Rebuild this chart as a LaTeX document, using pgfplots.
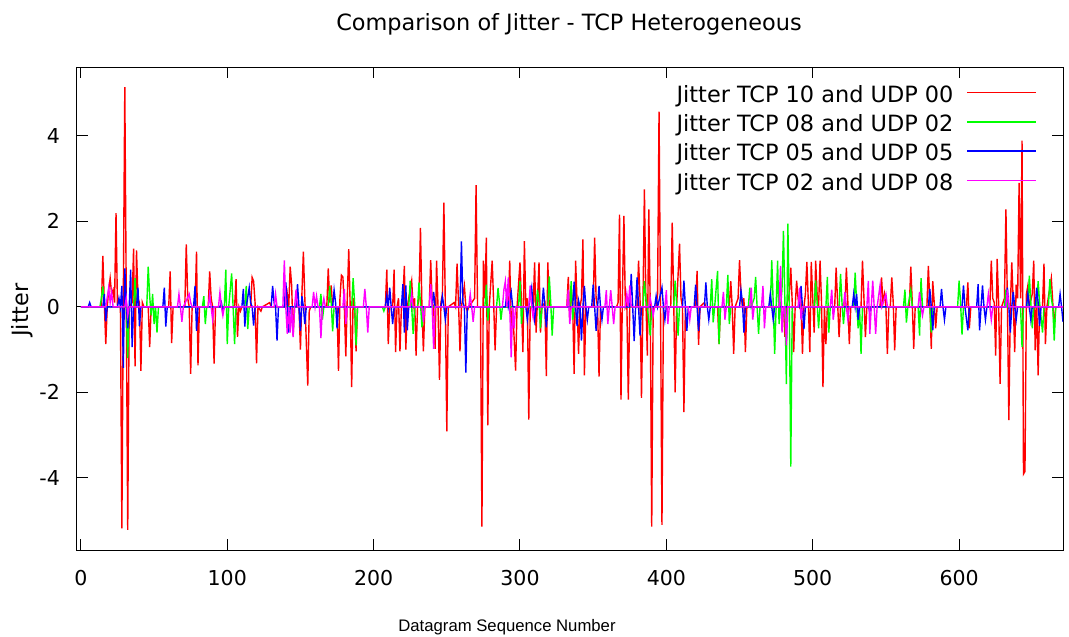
\documentclass[border=0pt]{standalone}
\usepackage{fontspec}
\setmainfont{DejaVu Sans}
\newfontfamily\libsans{Liberation Sans}
\usepackage{pgfplots}
\pgfplotsset{compat=1.18}
\definecolor{gred}{HTML}{FF0000}
\definecolor{ggreen}{HTML}{00FF00}
\definecolor{gblue}{HTML}{0000FF}
\definecolor{gmag}{HTML}{FF00FF}
\newcommand{\bigfnt}{\fontsize{22.4bp}{26bp}\selectfont}
\newcommand{\tckfnt}{\fontsize{20.5bp}{24bp}\selectfont}
\begin{document}
\begin{tikzpicture}
\useasboundingbox (0,0) rectangle (1069bp,637bp);
\begin{axis}[
  at={(76.5bp,86.5bp)}, anchor=south west,
  scale only axis, width=986.5bp, height=483bp,
  xmin=-3, xmax=671, ymin=-5.7, ymax=5.6,
  xtick={0,100,200,300,400,500,600},
  ytick={-4,-2,0,2,4}, yticklabels={-4,-2,0,2,4},
  xticklabels={0,100,200,300,400,500,600},
  tick align=inside, major tick length=11bp,
  axis line style={black,line width=1bp},
  every tick/.style={black,line width=1bp},
  xticklabel style={font=\tckfnt,anchor=north,inner sep=0pt,yshift=-20bp},
  yticklabel style={font=\tckfnt,anchor=east,inner sep=0pt,xshift=-16.5bp},
  legend plot pos=right, legend cell align=right,
  legend image code/.code={\draw[#1] (0bp,4bp) -- (69bp,4bp);},
  legend style={at={(rel axis cs:1,1)}, anchor=north east, xshift=-26bp, yshift=-18.8bp,
    draw=none, fill=none, inner sep=0pt, column sep=13bp, row sep=8.7bp,
    font=\bigfnt, nodes={inner sep=0pt, text height=16bp, text depth=4.5bp}},
  every axis plot/.append style={line width=1.4bp},
]
\addplot[gred] coordinates {
(0,0) (14,0) (15,1.19) (16,0.1) (17,-0.87) (18,0) (19,0.4) (20,0.67) (21,0.3) (22,0.4) (23,0.1) (24,2.19) (25,0) (27,0) (28,-5.18) (29,0.3) (30,5.14) (31,0.2) (32,-5.22) (33,0) (35,0.1) (36,1.36) (37,-1.39) (38,1.32) (39,0.2) (40,0.1) (41,-1.5) (42,0.1) (43,0) (46,0) (47,-0.94) (48,0) (60,0) (61,0.83) (62,-0.85) (63,0) (71,0) (72,1.46) (73,0.2) (74,0) (75,-1.57) (76,0) (78,0) (79,1.29) (80,-1.37) (81,0) (87,0) (88,0.83) (89,0.2) (90,0) (91,-1.33) (92,0) (105,0) (106,0.65) (107,-0.7) (108,0)
(109,-0.1) (110,0) (116,0) (117,0.69) (118,0.6) (119,0.1) (120,-1.32) (121,0) (123,-0.1) (124,0) (129,0.1) (130,0) (140,0) (141,0.3) (142,0) (143,0.94) (144,0.5) (145,-0.67) (146,0) (149,0) (150,-1.0) (151,0.3) (152,1.29) (153,0.2) (155,-1.84) (156,-0.1) (157,0) (168,0) (169,0.9) (170,0.1) (171,0.5) (172,0) (175,0) (176,-1.5) (177,0.2) (178,0.74) (179,0.7) (180,0) (181,-1.16) (182,0.2) (183,1.35) (184,0) (185,-1.88) (186,0.2) (187,0) (188,-1.04) (189,0) (208,0) (209,0.87) (210,-0.87) (211,0) (213,0) (214,0.87) (215,-1.06) (216,0) (217,0.2) (218,-1.04) (219,0) (220,0.2) (221,0.96) (222,-1.0) (223,0)
(226,0.61) (227,0) (228,0.2) (229,-1.14) (230,0) (231,0.2) (232,1.85) (233,0) (234,-1.04) (235,0) (238,0) (239,1.09) (240,0.1) (241,0) (242,-0.98) (243,1.08) (244,0) (245,-1.71) (246,0.1) (247,0.3) (248,2.44) (249,0) (250,-2.91) (251,0) (255,0.1) (256,0) (257,1.01) (258,0.1) (259,-1.04) (260,0) (262,0.49) (263,0) (264,-0.1) (265,0) (269,0.2) (270,2.85) (271,0) (273,0) (274,-5.14) (275,1.08) (276,0.2) (277,1.62) (278,-2.77) (279,0) (281,1.08) (282,0.1) (283,-1.02) (284,0) (292,0) (293,1.08) (294,-0.65) (295,0) (297,-1.49) (298,0) (300,1.04) (301,0.1) (302,-1.06) (303,1.54) (304,0) (305,0.2) (306,-2.64) (307,0) (309,0) (310,1.04) (311,-0.6) (312,0.2) (313,1.04) (314,-0.6) (315,0) (317,0.1) (318,-1.62) (319,1.04) (320,0) (332,0) (333,0.7) (334,-0.3)
(335,0.45) (336,0) (337,-1.57) (338,1.08) (339,0.1) (340,-1.1) (341,0) (342,0.2) (343,1.58) (344,-1.6) (345,0) (350,0) (351,1.62) (352,0.2) (353,0) (354,-1.63) (355,0) (366,0) (367,0.1) (368,2.16) (369,-2.17) (370,0.3) (371,2.13) (372,0) (373,0.1) (374,-2.17) (375,0) (380,0) (381,1.08) (382,0.2) (383,-2.13) (384,0) (385,2.75) (386,0.2) (387,-1.14) (388,2.28) (389,0) (390,-5.14) (391,0) (393,0) (394,0.3) (395,4.57) (396,0) (397,-5.1) (398,0) (403,0) (404,1.97) (405,0.2) (406,-2.0) (407,0) (409,1.48) (410,0.2) (411,0) (412,-2.46) (413,0) (420,0) (421,0.84) (422,-0.89) (423,0) (426,0.1) (427,0) (435,0) (436,-0.87) (437,0) (443,0) (444,0.6) (445,0) (446,-1.1) (447,0)
(449,0.2) (450,1.09) (451,0.3) (452,0) (453,0.2) (454,-1.06) (455,0) (480,0) (481,-0.7) (482,0) (484,0.3) (485,0.92) (486,0.1) (487,-1.06) (488,0) (489,0.61) (490,0.2) (491,0) (492,0.1) (493,-1.1) (494,0) (495,0.3) (496,1.05) (497,0.1) (498,-1.06) (499,1.05) (500,0.2) (501,-0.6) (502,1.08) (503,0.3) (504,0) (505,1.08) (506,0.1) (507,-1.88) (508,0) (509,-0.87) (510,0) (515,0) (516,0.92) (517,0.1) (518,-0.71) (519,0) (522,0) (523,0.92) (524,0.1) (525,-0.87) (526,0) (533,0) (534,1.08) (535,0.2) (536,-0.71) (537,0) (546,0) (547,0.69) (548,0.1) (549,0.3) (550,0) (551,-1.1) (552,0) (553,0) (554,0.69) (555,0.1) (556,-1.02) (557,0)
(566,0) (567,0.94) (568,0.1) (569,-0.98) (570,0) (578,0) (579,0.96) (580,0.1) (581,-0.98) (582,0.6) (583,0.1) (584,-0.5) (585,0) (605,0) (606,0.57) (607,-0.5) (608,0) (621,0) (622,1.08) (623,0.2) (624,0.1) (625,-1.14) (626,1.12) (627,0.1) (628,-1.8) (629,0) (631,0.2) (632,2.28) (633,0.1) (634,-2.65) (635,0) (636,1.04) (637,0.1) (638,-1.06) (639,0.52) (640,0.2) (641,2.9) (642,0.2) (643,3.89) (644,-3.91) (645,-3.85) (646,0.3) (647,0.5) (648,0) (650,0.3) (651,1.08) (652,-1.02) (653,0.2) (654,-1.6) (655,0) (657,0) (658,1.01) (659,-0.87) (660,0) (663,0.67) (664,0.1) (665,-0.5) (666,0) (671,0)
};
\addlegendentry{Jitter TCP 10 and UDP 00}
\addplot[ggreen] coordinates {
(0,0) (13,0) (14,0.2) (15,0.48) (16,0) (31,0) (32,-1.2) (33,0) (36,0) (37,0.67) (38,0) (45,0) (46,0.94) (47,0.25) (48,-0.2) (49,0.3) (50,-0.4) (51,0) (52,-0.6) (53,0) (83,0) (84,0.25) (85,-0.4) (86,0) (98,0) (99,0.87) (100,-0.87) (101,0) (103,0.78) (104,0) (105,-0.87) (106,0)
(112,0) (113,0.49) (114,-0.52) (115,0) (163,0) (164,0.3) (165,-0.3) (166,0) (169,0) (170,0.49) (171,0.1) (172,-0.57) (173,0) (185,0) (186,0.67) (187,0.1) (188,-0.9) (189,0) (206,0) (207,-0.1) (208,0)
(224,0) (225,0.61) (226,0) (227,-0.63) (228,0) (230,0) (231,0.57) (232,0.1) (233,-0.48) (234,0) (276,0) (277,0.52) (278,-0.32) (279,0) (284,0) (285,0.44) (286,0.1) (287,-0.3) (288,0) (299,0) (300,0.61) (301,-0.4) (302,0) (311,0) (312,0.4) (313,0.1) (314,-0.5) (315,0) (319,0) (320,0.71) (321,0.1) (322,-0.67) (323,0)
(334,0) (335,0.6) (336,-0.3) (337,0) (384,0) (385,0.6) (386,0.2) (387,0) (389,-0.67) (390,0) (405,0) (406,0.61) (407,0.1) (408,-0.67) (409,0) (430,0) (431,0.65) (432,-0.36) (433,0) (435,0.84) (436,-0.87) (437,0) (441,0) (442,0.75) (443,-0.4) (444,0)
(456,0) (457,0.45) (458,0) (460,0.2) (461,0.7) (462,0) (463,-0.63) (464,0) (471,0) (472,1.09) (473,0.1) (474,-1.1) (475,0) (476,1.08) (477,-0.4) (478,0) (479,0.4) (480,1.78) (481,0.1) (482,-1.81) (483,1.95) (484,0) (485,-3.74) (486,0) (501,0) (502,0.62) (503,0.1) (504,-0.5) (505,0) (509,0) (510,0.7) (511,-0.6) (512,0) (518,0) (519,0.77) (520,0.1) (521,-0.4) (522,0) (528,0) (529,0.8) (530,0.1) (531,-0.5) (532,0) (533,-1.1) (534,0)
(562,0) (563,0.4) (564,-0.37) (565,0) (567,0.4) (568,0) (572,0) (573,-0.67) (574,0.67) (575,0) (580,0) (581,-0.6) (582,0) (599,0) (600,0.61) (601,0.1) (602,-0.65) (603,0) (631,0) (632,0.4) (633,0) (642,0) (643,-0.94) (644,0) (647,0) (648,0.73) (649,0.1) (650,-0.5) (651,0) (653,0) (654,0.6) (655,0.1) (657,-0.6) (658,0) (661,0) (662,0.65) (663,0.2) (664,0) (665,-0.79) (666,0) (671,0)
};
\addlegendentry{Jitter TCP 08 and UDP 02}
\addplot[gblue] coordinates {
(0,0) (5,0) (6,0.1) (7,0) (15,0) (16,0.3) (17,-0.34) (18,0) (25,0) (26,0.2) (27,0) (28,0.49) (29,-1.43) (30,0.9) (31,0.1) (32,-0.5) (33,0) (34,0.87) (35,-0.94) (36,0) (38,0) (39,0.45) (40,-0.45) (41,0) (56,0) (57,0.45) (58,-0.46) (59,0) (77,0) (78,0.49) (79,-0.56) (80,0) (95,0) (96,0.1) (97,-0.1) (98,0)
(110,0) (111,0.42) (112,-0.46) (113,0) (115,0.45) (116,0.1) (117,0) (118,-0.44) (119,0) (130,0) (131,0.49) (132,0.1) (133,0) (134,-0.79) (135,0) (139,0) (140,0.57) (141,0.1) (142,-0.6) (143,0) (147,0) (148,0.53) (149,0) (150,-0.56) (151,0.25) (152,0) (153,-0.4) (154,0) (172,0) (173,0.39) (174,0.1) (175,-0.5) (176,0) (208,0) (209,0.26) (210,0) (211,0.45) (212,0) (213,-0.4) (214,0) (219,0) (220,0.53) (221,-0.6) (222,0.5) (223,-0.55) (224,0)
(240,0) (241,0.35) (242,0) (246,0) (247,0.25) (248,0) (249,-0.3) (250,0) (259,0) (260,1.53) (261,0.1) (262,0) (263,-1.54) (264,0) (290,0) (291,0.3) (292,0) (294,0.35) (295,0) (304,0) (305,-0.3) (306,0) (308,0.45) (309,0) (310,-0.3) (311,0) (315,0) (316,0.45) (317,0) (318,-0.48) (319,0)
(336,0) (337,0.59) (338,0) (339,-0.45) (340,0.15) (341,0) (342,-0.79) (343,0) (344,0.49) (345,0) (346,-0.3) (347,0) (349,0) (350,0.52) (351,0) (352,-0.56) (353,0) (354,0.49) (355,0) (356,-0.3) (357,0) (375,0) (376,0.77) (377,0) (378,-0.8) (379,0) (380,0.69) (381,0) (382,-0.67) (383,0) (392,0) (393,0.25) (394,0) (397,0.45) (398,0) (399,-0.3) (400,0) (411,0) (412,0.61) (413,0) (414,-0.56) (415,0) (419,0) (420,0.52) (421,0) (422,-0.56) (423,0) (426,0) (427,0.57) (428,0) (429,-0.3) (430,0)
(450,0) (451,0.38) (452,0.1) (453,-0.6) (454,0) (470,0) (471,0.3) (472,0) (473,-0.3) (474,0) (491,0) (492,0.49) (493,0) (494,-0.52) (495,0) (527,0) (528,0.3) (529,0) (530,0.3) (531,-0.3) (532,0) (538,0) (539,-0.1) (540,0)
(579,0) (580,0.42) (581,0) (582,-0.55) (583,0) (587,0) (588,0.42) (589,0) (590,-0.3) (591,0) (602,0) (603,0.5) (604,0) (606,-0.55) (607,0) (612,0) (613,0.53) (614,-0.55) (615,0) (616,0.5) (617,0) (618,-0.3) (619,0) (632,0) (633,0.45) (634,0) (635,-0.6) (636,0) (637,0.35) (638,0) (639,-0.3) (640,0) (646,0) (647,0.3) (648,0) (649,-0.3) (650,0) (652,0) (653,0.45) (654,0.1) (655,-0.45) (656,0) (668,0) (669,0.3) (670,0) (671,-0.35)
};
\addlegendentry{Jitter TCP 05 and UDP 05}
\addplot[gmag] coordinates {
(0,0) (17,0) (18,0.22) (19,0.45) (20,0.1) (21,0.35) (22,0) (30,0) (31,0.2) (32,-0.2) (33,0) (66,0) (67,0.3) (68,0) (69,-0.35) (70,0) (74,0.3) (75,0.1) (76,0) (87,0) (88,0.28) (89,0) (90,-0.3) (91,0) (94,0) (95,0.34) (96,0) (97,-0.2) (98,0)
(132,0) (133,0.3) (134,0) (138,0) (139,1.09) (140,0) (141,-0.63) (142,0) (143,-0.6) (144,0) (145,-0.71) (146,0) (147,0.4) (148,0) (158,0) (159,0.35) (160,0) (161,0.25) (162,0) (163,0) (164,-0.73) (165,0) (166,0.2) (167,0) (179,0) (180,0.42) (181,-0.4) (182,0) (193,0) (194,0.42) (195,0) (196,-0.6) (197,0)
(225,0) (226,0.3) (227,0) (233,0) (234,-0.35) (235,0) (238,0) (239,0.53) (240,0) (241,-0.98) (242,0) (265,0) (266,0.3) (267,0) (268,-0.35) (269,0) (288,0) (289,0.4) (290,0.6) (291,0) (292,0.69) (293,0) (294,-1.18) (295,0) (296,-0.5) (297,0) (306,0) (307,0.5) (308,0) (309,-0.25) (310,0) (332,0) (333,0.4) (334,-0.4) (335,0)
(358,0) (359,0.39) (360,-0.4) (361,0) (362,0.39) (363,0) (364,-0.4) (365,0) (372,0) (373,0.3) (374,0) (375,0.5) (376,0) (388,0) (389,0.2) (390,0) (391,-0.2) (392,0) (399,0) (400,0.39) (401,-0.4) (402,0) (415,0) (416,-0.3) (417,0) (438,0) (439,0.35) (440,-0.3) (441,0)
(457,0) (458,0.45) (459,-0.3) (460,0) (465,0) (466,0.49) (467,-0.5) (468,0) (477,0) (478,0.96) (479,-0.6) (480,0) (481,0) (482,-0.9) (483,0) (490,0) (491,0.45) (492,-0.3) (493,0) (512,0) (513,0.4) (514,-0.3) (515,0) (521,0) (522,0.35) (523,0) (524,-0.3) (525,0) (537,0) (538,0.61) (539,-0.63) (540,0) (541,0.61) (542,0) (543,-0.63) (544,0) (546,0.5) (547,0) (550,0.3) (551,0)
(572,0) (573,0.35) (574,0) (575,-0.2) (576,0) (619,0) (620,0.3) (621,0) (622,-0.3) (623,0) (632,0) (633,0.4) (634,0) (671,0)
};
\addlegendentry{Jitter TCP 02 and UDP 08}
\end{axis}
\node[font=\bigfnt,inner sep=0pt] at (569bp,613bp) {Comparison of Jitter - TCP Heterogeneous};
\node[font=\bigfnt,inner sep=0pt,rotate=90] at (22bp,327bp) {Jitter};
\node[font=\libsans\fontsize{16.7bp}{19bp}\selectfont,inner sep=0pt] at (507bp,10bp) {Datagram Sequence Number};
\end{tikzpicture}
\end{document}
